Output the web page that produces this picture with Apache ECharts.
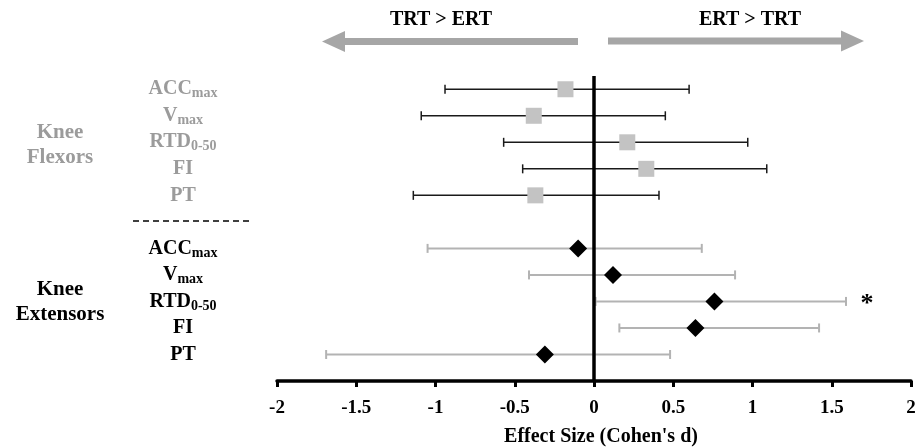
<!DOCTYPE html>
<html lang="en">
<head>
	<meta charset="UTF-8">
	<title>Effect size forest plot</title>
	<script src="https://cdn.jsdelivr.net/npm/echarts@6/dist/echarts.min.js"></script>
	<style>
		html, body { margin: 0; padding: 0; background: #fff; }
		#main { width: 923px; height: 448px; }
	</style>
</head>
<body>
<div id="main"></div>
<script>
// measures (main part + subscript)
var measures = ['ACC', 'V', 'RTD', 'FI', 'PT'];
var measureSubs = ['max', 'max', '0-50', '', ''];

// knee flexors: effect size and interval
var flexorD = [-0.18, -0.38, 0.21, 0.33, -0.37];
var flexorLow = [-0.94, -1.09, -0.57, -0.45, -1.14];
var flexorHigh = [0.60, 0.45, 0.97, 1.09, 0.41];

// knee extensors
var extensorD = [-0.10, 0.12, 0.76, 0.64, -0.31];
var extensorLow = [-1.05, -0.41, 0.01, 0.16, -1.69];
var extensorHigh = [0.68, 0.89, 1.59, 1.42, 0.48];
var extensorSig = [false, false, true, false, false];

var xTicks = [-2, -1.5, -1, -0.5, 0, 0.5, 1, 1.5, 2];

var FONT = '"Liberation Serif", "DejaVu Serif", serif';
var GREY_TXT = '#9b9b9b';

// rows 0-4 flexors, row 5 blank (dashed line), rows 6-10 extensors
var rowLabel = {};
for (var i = 0; i < measures.length; i++) {
	var sub = measureSubs[i] ? '{fs|' + measureSubs[i] + '}' : '';
	rowLabel[i] = '{f|' + measures[i] + '}' + sub;
	sub = measureSubs[i] ? '{es|' + measureSubs[i] + '}' : '';
	rowLabel[i + 6] = '{e|' + measures[i] + '}' + sub;
}

var flexBars = [], flexPts = [], extBars = [], extPts = [];
for (var i = 0; i < measures.length; i++) {
	flexBars.push([flexorLow[i], flexorHigh[i], i, 0]);
	flexPts.push([flexorD[i], i]);
	extBars.push([extensorLow[i], extensorHigh[i], i + 6, extensorSig[i] ? 1 : 0]);
	extPts.push([extensorD[i], i + 6]);
}

function errorBar(color, width) {
	return function (params, api) {
		var lo = api.coord([api.value(0), api.value(2)]);
		var hi = api.coord([api.value(1), api.value(2)]);
		var h = 4.5;
		var style = { stroke: color, lineWidth: width };
		var children = [
			{ type: 'line', shape: { x1: lo[0], y1: lo[1], x2: hi[0], y2: hi[1] }, style: style },
			{ type: 'line', shape: { x1: lo[0], y1: lo[1] - h, x2: lo[0], y2: lo[1] + h }, style: style },
			{ type: 'line', shape: { x1: hi[0], y1: hi[1] - h, x2: hi[0], y2: hi[1] + h }, style: style }
		];
		if (api.value(3) === 1) {
			children.push({
				type: 'text',
				style: {
					x: hi[0] + 21, y: hi[1] + 3, text: '*',
					font: 'bold 26px ' + FONT, fill: '#000',
					align: 'center', verticalAlign: 'middle'
				}
			});
		}
		return { type: 'group', children: children };
	};
}

var myChart = echarts.init(document.getElementById('main'));
var option = {
	animation: false,
	backgroundColor: '#fff',
	grid: { left: 277, right: 12, top: 76, bottom: 67, containLabel: false, outerBoundsMode: 'none' },
	xAxis: {
		type: 'value',
		min: xTicks[0],
		max: xTicks[xTicks.length - 1],
		interval: 0.5,
		splitLine: { show: false },
		axisLine: { onZero: false, lineStyle: { color: '#000', width: 3.5 } },
		axisTick: { show: true, length: 6, lineStyle: { color: '#000', width: 3 } },
		axisLabel: { margin: 18, color: '#000', fontFamily: FONT, fontWeight: 'bold', fontSize: 19 },
		name: "Effect Size (Cohen's d)",
		nameLocation: 'middle',
		nameGap: 46,
		nameTextStyle: { color: '#000', fontFamily: FONT, fontWeight: 'bold', fontSize: 20, padding: [0, 0, 0, 14] }
	},
	yAxis: {
		type: 'value',
		inverse: true,
		min: -0.5,
		max: 11,
		interval: 0.5,
		splitLine: { show: false },
		axisLine: { show: false },
		axisTick: { show: false },
		axisLabel: {
			margin: 94,
			align: 'center',
			formatter: function (v) { return rowLabel[v] || ''; },
			rich: {
				f: { fontFamily: FONT, fontWeight: 'bold', fontSize: 20, color: GREY_TXT },
				fs: { fontFamily: FONT, fontWeight: 'bold', fontSize: 14, color: GREY_TXT, padding: [9, 0, 0, 0] },
				e: { fontFamily: FONT, fontWeight: 'bold', fontSize: 20, color: '#000' },
				es: { fontFamily: FONT, fontWeight: 'bold', fontSize: 14, color: '#000', padding: [9, 0, 0, 0] }
			}
		}
	},
	graphic: [
		{ type: 'text', style: { x: 441, y: 20, text: 'TRT > ERT', font: 'bold 20px ' + FONT, fill: '#000', align: 'center', verticalAlign: 'middle' } },
		{ type: 'text', style: { x: 750, y: 20, text: 'ERT > TRT', font: 'bold 20px ' + FONT, fill: '#000', align: 'center', verticalAlign: 'middle' } },
		{ type: 'rect', shape: { x: 343, y: 38, width: 235, height: 7 }, style: { fill: '#a6a6a6' } },
		{ type: 'polygon', shape: { points: [[322, 41.5], [345, 31], [345, 52]] }, style: { fill: '#a6a6a6' } },
		{ type: 'rect', shape: { x: 608, y: 37.5, width: 235, height: 7 }, style: { fill: '#a6a6a6' } },
		{ type: 'polygon', shape: { points: [[864, 41], [841, 30.5], [841, 51.5]] }, style: { fill: '#a6a6a6' } },
		{ type: 'line', shape: { x1: 133, y1: 221, x2: 252, y2: 221 }, style: { stroke: '#000', lineWidth: 1.5, lineDash: [6, 4] } },
		{ type: 'text', style: { x: 60, y: 145, text: 'Knee\nFlexors', font: 'bold 21px ' + FONT, fill: GREY_TXT, align: 'center', verticalAlign: 'middle', lineHeight: 25 } },
		{ type: 'text', style: { x: 60, y: 302, text: 'Knee\nExtensors', font: 'bold 21px ' + FONT, fill: '#000', align: 'center', verticalAlign: 'middle', lineHeight: 25 } }
	],
	series: [
		{
			name: 'flexor CI',
			type: 'custom',
			renderItem: errorBar('#1a1a1a', 1.5),
			encode: { x: [0, 1], y: 2 },
			data: flexBars,
			silent: true,
			z: 2
		},
		{
			name: 'extensor CI',
			type: 'custom',
			renderItem: errorBar('#b3b3b3', 2),
			encode: { x: [0, 1], y: 2 },
			data: extBars,
			silent: true,
			z: 2,
			markLine: {
				silent: true,
				symbol: 'none',
				label: { show: false },
				lineStyle: { color: '#000', width: 3.5, type: 'solid' },
				data: [{ xAxis: 0 }]
			}
		},
		{
			name: 'flexors',
			type: 'scatter',
			symbol: 'rect',
			symbolSize: 16,
			itemStyle: { color: '#c3c3c3', opacity: 1 },
			data: flexPts,
			z: 4
		},
		{
			name: 'extensors',
			type: 'scatter',
			symbol: 'diamond',
			symbolSize: [18, 18],
			itemStyle: { color: '#000', opacity: 1 },
			data: extPts,
			z: 4
		}
	]
};
myChart.setOption(option);
</script>
</body>
</html>
